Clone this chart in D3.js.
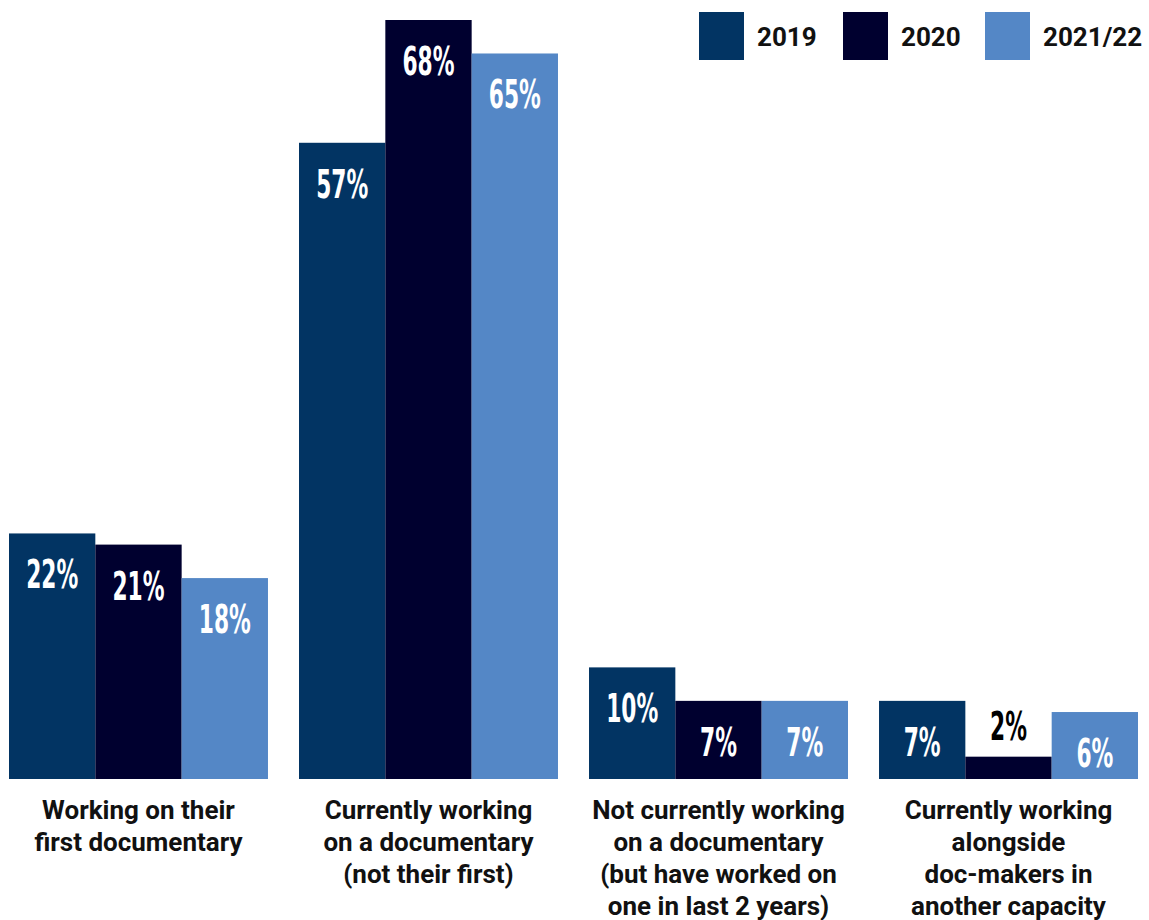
<!DOCTYPE html>
<html>
<head>
<meta charset="utf-8">
<script src="https://cdn.jsdelivr.net/npm/d3@7"></script>
<style>
  body { margin: 0; background: #fff; }
  svg { display: block; }
</style>
</head>
<body>
<div id="chart"></div>
<script>
// categories, one per group of bars
const categories = [
    ['Working on their', 'first documentary'],
    ['Currently working', 'on a documentary', '(not their first)'],
    ['Not currently working', 'on a documentary', '(but have worked on', 'one in last 2 years)'],
    ['Currently working', 'alongside', 'doc-makers in', 'another capacity']
];
const years = ['2019', '2020', '2021/22'];
const colors = ['#023463', '#00002f', '#5487c6'];

// percent per year, in category order
const values2019 = [22, 57, 10, 7];
const values2020 = [21, 68, 7, 2];
const values2122 = [18, 65, 7, 6];
const series = [values2019, values2020, values2122];

const width = 1149;
const height = 920;
const baseline = 779;

const svg = d3.select('#chart').append('svg')
    .attr('width', width)
    .attr('height', height);

const x0 = d3.scaleBand()
    .domain(d3.range(categories.length))
    .range([9, 1138])
    .paddingInner(0.107);

const x1 = d3.scaleBand()
    .domain(years)
    .range([0, x0.bandwidth()]);

const y = d3.scaleLinear()
    .domain([0, 68])
    .range([baseline, 20]);

const bars = [];
categories.forEach((cat, i) => {
    years.forEach((year, j) => {
        bars.push({ group: i, year: year, color: colors[j], value: series[j][i] });
    });
});

const g = svg.selectAll('g.bar')
    .data(bars)
    .enter().append('g')
    .attr('class', 'bar')
    .attr('transform', d => `translate(${x0(d.group) + x1(d.year)},0)`);

g.append('rect')
    .attr('x', 0)
    .attr('y', d => y(d.value))
    .attr('width', x1.bandwidth())
    .attr('height', d => baseline - y(d.value))
    .attr('fill', d => d.color);

// value labels: inside the bar near its top, above it when the bar is too short
const fits = d => baseline - y(d.value) > 40;
g.append('text')
    .attr('transform', d => {
        const ty = fits(d) ? Math.min(y(d.value) + 55, baseline - 8) : y(d.value) - 17;
        return `translate(${x1.bandwidth() / 2},${ty}) scale(0.62,1)`;
    })
    .attr('text-anchor', 'middle')
    .attr('font-family', '"Liberation Sans Narrow", "DejaVu Sans Condensed", sans-serif')
    .attr('font-weight', 'bold')
    .attr('font-size', 39)
    .attr('fill', d => (fits(d) ? '#fff' : '#000'))
    .text(d => d.value + '%');

// category labels below the bars
svg.selectAll('text.cat')
    .data(categories)
    .enter().append('text')
    .attr('class', 'cat')
    .attr('x', (d, i) => x0(i) + x0.bandwidth() / 2)
    .attr('y', 819)
    .attr('text-anchor', 'middle')
    .attr('font-family', 'Roboto, sans-serif')
    .attr('font-weight', 'bold')
    .attr('font-size', 26)
    .attr('fill', '#111')
    .selectAll('tspan')
    .data(d => d)
    .enter().append('tspan')
    .attr('x', function() { return this.parentNode.getAttribute('x'); })
    .attr('dy', (d, k) => (k === 0 ? 0 : 32))
    .text(d => d);

// legend
const legendX = [699, 843, 985];
const legend = svg.selectAll('g.legend')
    .data(years)
    .enter().append('g')
    .attr('class', 'legend')
    .attr('transform', (d, i) => `translate(${legendX[i]},12)`);

legend.append('rect')
    .attr('width', 45)
    .attr('height', 48)
    .attr('fill', (d, i) => colors[i]);

legend.append('text')
    .attr('x', 58)
    .attr('y', 34)
    .attr('font-family', 'Roboto, sans-serif')
    .attr('font-weight', 'bold')
    .attr('font-size', 26)
    .attr('fill', '#111')
    .text(d => d);
</script>
</body>
</html>
